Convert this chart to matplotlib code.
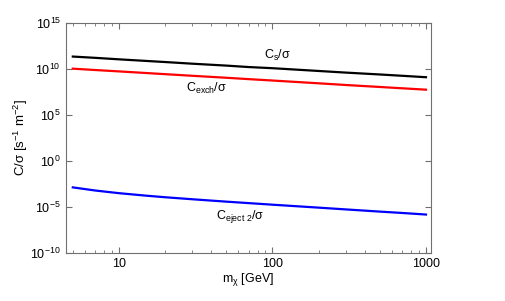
import numpy as np
import matplotlib
matplotlib.use('Agg')
import matplotlib.pyplot as plt
from matplotlib.ticker import NullLocator

plt.rcParams['font.family'] = ['Liberation Sans', 'DejaVu Sans']
plt.rcParams['mathtext.fontset'] = 'custom'
plt.rcParams['mathtext.rm'] = 'Liberation Sans'
plt.rcParams['mathtext.it'] = 'Liberation Sans:italic'
plt.rcParams['mathtext.default'] = 'regular'

# masa WIMP [GeV]
m_chi = [5, 7, 10, 15, 20, 30, 50, 70, 100, 200, 300, 500, 700, 1000]
# C/sigma [s^-1 m^-2]
c_s = [2.2e11, 1.6e11, 1.1e11, 7.4e10, 5.6e10, 3.7e10, 2.3e10, 1.6e10, 1.2e10,
       6.0e9, 4.0e9, 2.5e9, 1.8e9, 1.26e9]
c_exch = [1.07e10, 7.6e9, 5.4e9, 3.6e9, 2.7e9, 1.8e9, 1.1e9, 7.8e8, 5.5e8,
          2.75e8, 1.8e8, 1.1e8, 7.9e7, 5.6e7]
c_eject2 = [1.38e-3, 6.3e-4, 3.24e-4, 1.74e-4, 1.17e-4, 7.1e-5, 3.9e-5, 2.7e-5,
            1.82e-5, 8.7e-6, 5.6e-6, 3.24e-6, 2.3e-6, 1.55e-6]

fig = plt.figure(figsize=(5.06, 3.01), dpi=100)
ax = fig.add_axes([0.130, 0.159, 0.722, 0.765])

ax.plot(m_chi, c_s, color='black', lw=1.6)
ax.plot(m_chi, c_exch, color='red', lw=1.6)
ax.plot(m_chi, c_eject2, color='blue', lw=1.6)

ax.set_xscale('log')
ax.set_yscale('log')
ax.set_xlim(4.5, 1080)
ax.set_ylim(1e-10, 1e15)

ax.set_yticks([1e-10, 1e-5, 1e0, 1e5, 1e10, 1e15])
ax.yaxis.set_minor_locator(NullLocator())
ax.set_xticks([10, 100, 1000])
ax.set_xticklabels(['10', '100', '1000'])

ax.tick_params(which='both', direction='in', top=True, right=True,
               labelsize=9, color='#707070')
ax.tick_params(which='major', length=4)
ax.tick_params(which='minor', length=2)
for s in ax.spines.values():
    s.set_color('#707070')
    s.set_linewidth(0.8)

ax.set_xlabel(r'm$_\chi$ [GeV]', fontsize=9, labelpad=1)
ax.set_ylabel(r'C/$\sigma$ [s$^{-1}$ m$^{-2}$]', fontsize=9.5, labelpad=0)

ax.text(107, 3e11, r'C$_{s}$/$\sigma$', fontsize=9, ha='center', va='center')
ax.text(37, 8.5e7, r'C$_{exch}$/$\sigma$', fontsize=9, ha='center', va='center')
ax.text(62, 1e-6, r'C$_{eject\ 2}$/$\sigma$', fontsize=9, ha='center', va='center')

fig.savefig('out.png', dpi=100)
